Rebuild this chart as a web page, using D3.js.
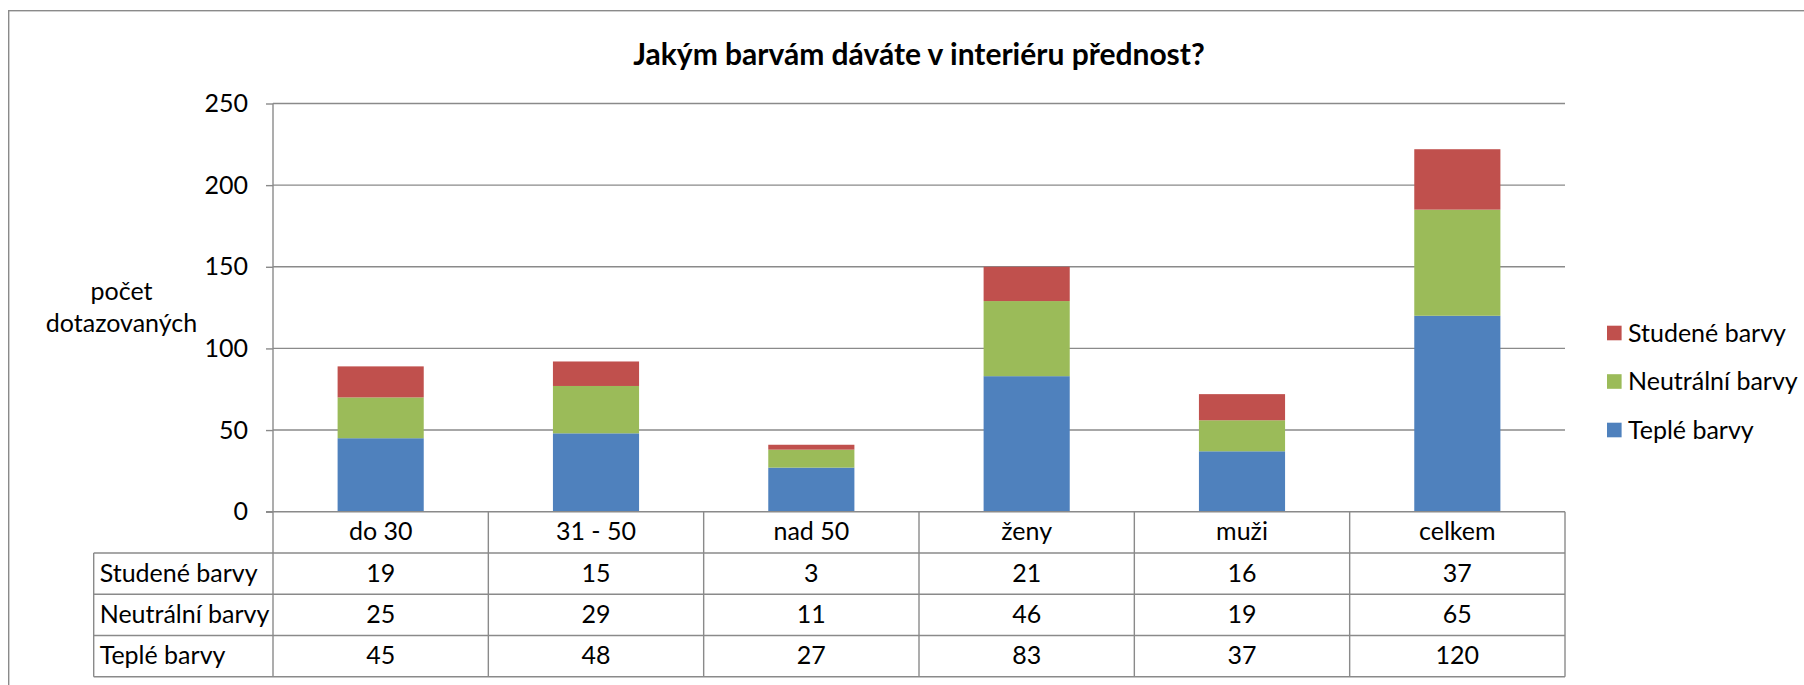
<!DOCTYPE html>
<html>
<head>
<meta charset="utf-8">
<script src="https://cdn.jsdelivr.net/npm/d3@7"></script>
<style>
    html, body { margin: 0; padding: 0; background: #fff; }
    svg { display: block; font-family: Lato, "Open Sans", sans-serif; }
    .grid line, .frame { stroke: #8a8a8a; stroke-width: 1.4; fill: none; }
    .tableLine { stroke: #8a8a8a; stroke-width: 1.4; }
    .txt { fill: #000; font-size: 25px; }
</style>
</head>
<body>
<div id="chart"></div>
<script>
// chart values
var categories = ["do 30", "31 - 50", "nad 50", "ženy", "muži", "celkem"];
var teple = [45, 48, 27, 83, 37, 120];
var neutralni = [25, 29, 11, 46, 19, 65];
var studene = [19, 15, 3, 21, 16, 37];
var seriesNames = ["Teplé barvy", "Neutrální barvy", "Studené barvy"];
var seriesColors = ["#4f81bd", "#9bbb59", "#c0504d"];
var yTicks = [0, 50, 100, 150, 200, 250];

var title = "Jakým barvám dáváte v interiéru přednost?";
var yLabel = ["počet", "dotazovaných"];

var width = 1804;
var height = 685;
var plot = {left: 273, right: 1565, top: 103.5, bottom: 511.7};
var tableLeft = 93.7;
var rowH = 41.25;

var svg = d3.select("#chart").append("svg")
    .attr("width", width)
    .attr("height", height);

// outer chart frame (runs off the right and bottom of the picture)
svg.append("rect")
    .attr("class", "frame")
    .attr("x", 8.7)
    .attr("y", 10.7)
    .attr("width", width + 20)
    .attr("height", height + 20);

svg.append("text")
    .attr("x", 919)
    .attr("y", 65)
    .attr("text-anchor", "middle")
    .style("font-size", "30px")
    .style("font-weight", "bold")
    .text(title);

// scales
var xScale = d3.scaleBand().domain(categories)
    .range([plot.left, plot.right])
    .paddingInner(0.6)
    .paddingOuter(0.3);
var yScale = d3.scaleLinear().domain([0, 250]).range([plot.bottom, plot.top]);

// horizontal grid lines + y axis
var grid = svg.append("g").attr("class", "grid");
grid.selectAll("line.h").data(yTicks.filter(function(d) { return d > 0; })).enter()
    .append("line")
    .attr("x1", plot.left).attr("x2", plot.right)
    .attr("y1", function(d) { return yScale(d); })
    .attr("y2", function(d) { return yScale(d); });

var yAxis = svg.append("g")
    .attr("transform", `translate(${plot.left},0)`)
    .call(d3.axisLeft(yScale).tickValues(yTicks).tickSize(7).tickPadding(18));
yAxis.select(".domain").remove();
yAxis.selectAll(".tick line").attr("stroke", "#8a8a8a").attr("stroke-width", 1.4);
yAxis.selectAll(".tick text")
    .attr("class", "txt")
    .attr("fill", "#000")
    .style("font-family", "Lato, sans-serif")
    .style("font-size", "25px");

// y axis title, two lines
svg.append("text")
    .attr("class", "txt")
    .attr("text-anchor", "middle")
    .selectAll("tspan").data(yLabel).enter()
    .append("tspan")
    .attr("x", 121.5)
    .attr("y", function(d, i) { return 300 + i * 32; })
    .text(function(d) { return d; });

// stacked bars
var rows = categories.map(function(c, i) {
    return {cat: c, t: teple[i], n: neutralni[i], s: studene[i]};
});
var stacked = d3.stack().keys(["t", "n", "s"])(rows);

svg.append("g").selectAll("g")
    .data(stacked).enter()
    .append("g")
    .attr("fill", function(d, i) { return seriesColors[i]; })
    .selectAll("rect")
    .data(function(d) { return d; }).enter()
    .append("rect")
    .attr("x", function(d) { return xScale(d.data.cat); })
    .attr("width", xScale.bandwidth())
    .attr("y", function(d) { return yScale(d[1]); })
    .attr("height", function(d) { return yScale(d[0]) - yScale(d[1]); });

// data table under the plot
var tableRows = [
    {name: seriesNames[2], values: studene},
    {name: seriesNames[1], values: neutralni},
    {name: seriesNames[0], values: teple}
];
var tableTop = plot.bottom;
var tableBottom = tableTop + rowH * 4;
var table = svg.append("g");

// vertical lines: axis / column dividers / right edge
var colEdges = categories.map(function(c) { return xScale(c) - xScale.step() * xScale.paddingOuter(); });
colEdges.push(plot.right);
table.selectAll("line.v").data(colEdges).enter()
    .append("line")
    .attr("class", "tableLine")
    .attr("x1", function(d) { return d; }).attr("x2", function(d) { return d; })
    .attr("y1", function(d, i) { return i == 0 ? plot.top : tableTop; })
    .attr("y2", tableBottom);
table.append("line")
    .attr("class", "tableLine")
    .attr("x1", tableLeft).attr("x2", tableLeft)
    .attr("y1", tableTop + rowH).attr("y2", tableBottom);

// horizontal lines
table.append("line")
    .attr("class", "tableLine")
    .attr("x1", plot.left - 7).attr("x2", plot.right)
    .attr("y1", tableTop).attr("y2", tableTop);
table.selectAll("line.h").data([1, 2, 3, 4]).enter()
    .append("line")
    .attr("class", "tableLine")
    .attr("x1", tableLeft).attr("x2", plot.right)
    .attr("y1", function(d) { return tableTop + d * rowH; })
    .attr("y2", function(d) { return tableTop + d * rowH; });

// header with category names
table.selectAll("text.cat").data(categories).enter()
    .append("text")
    .attr("class", "txt")
    .attr("text-anchor", "middle")
    .attr("x", function(d) { return xScale(d) + xScale.bandwidth() / 2; })
    .attr("y", tableTop + rowH / 2 + 8)
    .text(function(d) { return d; });

tableRows.forEach(function(row, r) {
    var cy = tableTop + rowH * (r + 1) + rowH / 2 + 8;
    table.append("text")
        .attr("class", "txt")
        .attr("x", tableLeft + 6)
        .attr("y", cy)
        .text(row.name);
    table.selectAll(null).data(row.values).enter()
        .append("text")
        .attr("class", "txt")
        .attr("text-anchor", "middle")
        .attr("x", function(d, i) { return xScale(categories[i]) + xScale.bandwidth() / 2; })
        .attr("y", cy)
        .text(function(d) { return d; });
});

// legend (reverse order: top series first)
var legendItems = [2, 1, 0];
var legend = svg.append("g").selectAll("g")
    .data(legendItems).enter()
    .append("g")
    .attr("transform", function(d, i) { return `translate(1607,${333 + i * 48.5})`; });
legend.append("rect")
    .attr("x", 0).attr("y", -7.3)
    .attr("width", 14.6).attr("height", 14.6)
    .attr("fill", function(d) { return seriesColors[d]; });
legend.append("text")
    .attr("class", "txt")
    .attr("x", 21)
    .attr("y", 8.5)
    .text(function(d) { return seriesNames[d]; });
</script>
</body>
</html>
